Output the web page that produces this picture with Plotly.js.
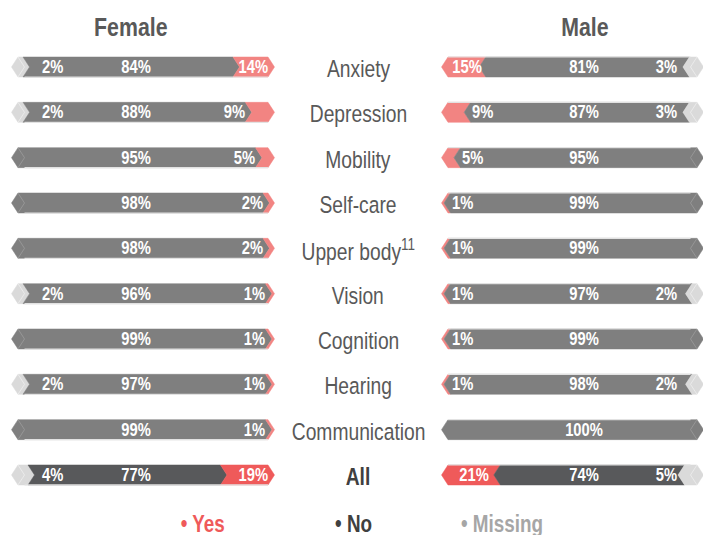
<!DOCTYPE html>
<html>
<head>
<meta charset="utf-8">
<script src="https://cdn.plot.ly/plotly-3.0.1.min.js"></script>
<style>
  html, body { margin: 0; padding: 0; background: #fff; }
  #chart { width: 703px; height: 535px; }
</style>
</head>
<body>
<div id="chart"></div>
<script>
// ---------------- DATA ----------------
const categories = ['Anxiety', 'Depression', 'Mobility', 'Self-care', 'Upper body<sup>11</sup>',
                    'Vision', 'Cognition', 'Hearing', 'Communication', '<b>All</b>'];
const femaleMissing = [2, 2, 0, 0, 0, 2, 0, 2, 0, 4];
const femaleNo      = [84, 88, 95, 98, 98, 96, 99, 97, 99, 77];
const femaleYes     = [14, 9, 5, 2, 2, 1, 1, 1, 1, 19];
const maleYes       = [15, 9, 5, 1, 1, 1, 1, 1, 0, 21];
const maleNo        = [81, 87, 95, 99, 99, 97, 99, 98, 100, 74];
const maleMissing   = [3, 3, 0, 0, 0, 2, 0, 2, 0, 5];
const panelTitles = ['Female', 'Male'];
const legendLabels = ['Yes', 'No', 'Missing'];

// ---------------- STYLE / LAYOUT CONSTANTS ----------------
const W = 703, H = 535;
const FONT = '"Liberation Sans", Arial, sans-serif';
const NARROW_SCALE = 0.82;   // horizontal squeeze to mimic a narrow face
const fBody = [18, 268], mBody = [448, 697];
const rowTopPx = 67, rowStepPx = 45.33;
const halfBarPx = 10, tipPx = 6.5;
const colMissing = '#dadada';
const colNo = '#7f7f7f', colNoAll = '#58595b';
const colYes = '#f28482', colYesAll = '#ef5a5a';
const colBevel = '#e2e2e2';
const pad = 3.2;

const fPpu = (fBody[1] - fBody[0]) / 100;
const mPpu = (mBody[1] - mBody[0]) / 100;
const fDom = [(fBody[0] - pad * fPpu) / W, (fBody[1] + pad * fPpu) / W];
const mDom = [(mBody[0] - pad * mPpu) / W, 1];
const mRangeMax = (W - mBody[0]) / mPpu;
const yTop = -rowTopPx / rowStepPx, yBot = (H - rowTopPx) / rowStepPx;
const hh = halfBarPx / rowStepPx;

const traces = [];
const annotations = [];

function addSeg(axis, a, b, i, pointRight, isOuter, d, color) {
  let leftX, rightX;
  if (pointRight) { rightX = b + d; leftX = isOuter ? a - d : a + d; }
  else { leftX = a - d; rightX = isOuter ? b + d : b - d; }
  const top = i - hh, bot = i + hh;
  traces.push({
    type: 'scatter', mode: 'lines', xaxis: axis, yaxis: 'y',
    x: [a, b, rightX, b, a, leftX, a],
    y: [top, top, i, bot, bot, i, top],
    fill: 'toself', fillcolor: color,
    line: { width: 0.5, color: color },
    hoverinfo: 'skip', showlegend: false
  });
}

function addLine(axis, xs, ys, color, width) {
  traces.push({
    type: 'scatter', mode: 'lines', xaxis: axis, yaxis: 'y', x: xs, y: ys,
    line: { width: width, color: color }, hoverinfo: 'skip', showlegend: false
  });
}

function label(axis, x, i, txt, anchor) {
  annotations.push({
    xref: axis, yref: 'y', x: x, y: i, text: '<b>' + txt + '</b>', showarrow: false,
    xanchor: anchor, yanchor: 'middle',
    font: { family: FONT, size: 18, color: '#ffffff' }
  });
}

categories.forEach((cat, i) => {
  const isAll = i === categories.length - 1;
  const cNo = isAll ? colNoAll : colNo;
  const cYes = isAll ? colYesAll : colYes;
  const top = i - hh, bot = i + hh;

  // Female: Missing | No | Yes, pointing right
  {
    const tot = femaleMissing[i] + femaleNo[i] + femaleYes[i];
    const vals = [femaleMissing[i], femaleNo[i], femaleYes[i]].map(v => v * 100 / tot);
    const cols = [colMissing, cNo, cYes];
    const d = tipPx / fPpu;
    let acc = 0, first = true;
    vals.forEach((v, k) => {
      if (v > 0) { addSeg('x', acc, acc + v, i, true, first, d, cols[k]); first = false; }
      acc += v;
    });
    // bevel along the bottom edge and faint inner chevron of the outer end
    addLine('x', [d, 100], [bot, bot], colBevel, 1.2);
    addLine('x', [0, d, 0], [top, i, bot], femaleMissing[i] > 0 ? '#efefef' : '#9c9c9c', 0.8);
    if (femaleMissing[i] > 0) label('x', 8.8, i, femaleMissing[i] + '%', 'left');
    if (femaleNo[i] > 0) label('x', 47.2, i, femaleNo[i] + '%', 'center');
    if (femaleYes[i] > 0) {
      const start = 100 - vals[2];
      if (femaleYes[i] >= 12) label('x', 100.8, i, femaleYes[i] + '%', 'right');
      else label('x', start + 0.6, i, femaleYes[i] + '%', 'right');
    }
  }
  // Male: Yes | No | Missing, pointing left
  {
    const tot = maleYes[i] + maleNo[i] + maleMissing[i];
    const vals = [maleYes[i], maleNo[i], maleMissing[i]].map(v => v * 100 / tot);
    const cols = [cYes, cNo, colMissing];
    const d = tipPx / mPpu;
    let lastIdx = -1;
    vals.forEach((v, k) => { if (v > 0) lastIdx = k; });
    let acc = 0;
    vals.forEach((v, k) => {
      if (v > 0) addSeg('x2', acc, acc + v, i, false, k === lastIdx, d, cols[k]);
      acc += v;
    });
    addLine('x2', [0, 100 - d], [top, top], colBevel, 1.2);
    addLine('x2', [100, 100 - d, 100], [top, i, bot], maleMissing[i] > 0 ? '#efefef' : '#9c9c9c', 0.8);
    if (maleYes[i] > 0) {
      if (maleYes[i] >= 12) label('x2', vals[0] / 2, i, maleYes[i] + '%', 'center');
      else label('x2', vals[0] - 0.3, i, maleYes[i] + '%', 'left');
    }
    if (maleNo[i] > 0) label('x2', 54.8, i, maleNo[i] + '%', 'center');
    if (maleMissing[i] > 0) label('x2', 92.8, i, maleMissing[i] + '%', 'right');
  }

  // category label
  annotations.push({
    xref: 'paper', yref: 'y', x: 358 / W, y: i, yshift: -2, text: cat, showarrow: false,
    xanchor: 'center', yanchor: 'middle',
    font: { family: FONT, size: 23.5, color: isAll ? '#404040' : '#595959' }
  });
});

// panel titles
[131, 585].forEach((cx, k) => {
  annotations.push({
    xref: 'paper', yref: 'paper', x: cx / W, y: 1 - 27 / H, text: '<b>' + panelTitles[k] + '</b>',
    showarrow: false, xanchor: 'center', yanchor: 'middle',
    font: { family: FONT, size: 26, color: '#595959' }
  });
});

// legend
const legendCols = [colYesAll, '#404040', '#a6a6a6'];
[202.5, 353, 501.5].forEach((cx, k) => {
  annotations.push({
    xref: 'paper', yref: 'paper', x: cx / W, y: 1 - 524 / H, text: '<b>• ' + legendLabels[k] + '</b>',
    showarrow: false, xanchor: 'center', yanchor: 'middle',
    font: { family: FONT, size: 23, color: legendCols[k] }
  });
});

const axisCommon = { visible: false, showgrid: false, zeroline: false, fixedrange: true };
const layout = {
  width: W, height: H,
  margin: { l: 0, r: 0, t: 0, b: 0, pad: 0 },
  paper_bgcolor: '#ffffff', plot_bgcolor: 'rgba(0,0,0,0)',
  showlegend: false,
  xaxis: Object.assign({ domain: fDom, range: [-pad, 100 + pad] }, axisCommon),
  xaxis2: Object.assign({ domain: mDom, range: [-pad, mRangeMax], anchor: 'y' }, axisCommon),
  yaxis: Object.assign({ domain: [0, 1], range: [yBot, yTop] }, axisCommon),
  annotations: annotations
};

Plotly.newPlot('chart', traces, layout, { staticPlot: true, displayModeBar: false }).then(gd => {
  // squeeze annotation text horizontally around its anchor to imitate a narrow typeface
  gd.querySelectorAll('g.annotation').forEach(g => {
    try {
      const idx = +g.getAttribute('data-index');
      const ann = layout.annotations[idx];
      const t = g.querySelector('text.annotation-text');
      if (!t || !ann) return;
      const bb = t.getBBox();
      let ax = bb.x + bb.width / 2;
      if (ann.xanchor === 'left') ax = bb.x;
      else if (ann.xanchor === 'right') ax = bb.x + bb.width;
      const prev = t.getAttribute('transform') || '';
      t.setAttribute('transform',
        'translate(' + ax + ',0) scale(' + NARROW_SCALE + ',1) translate(' + (-ax) + ',0) ' + prev);
    } catch (e) { /* leave text as is */ }
  });
});
</script>
</body>
</html>
